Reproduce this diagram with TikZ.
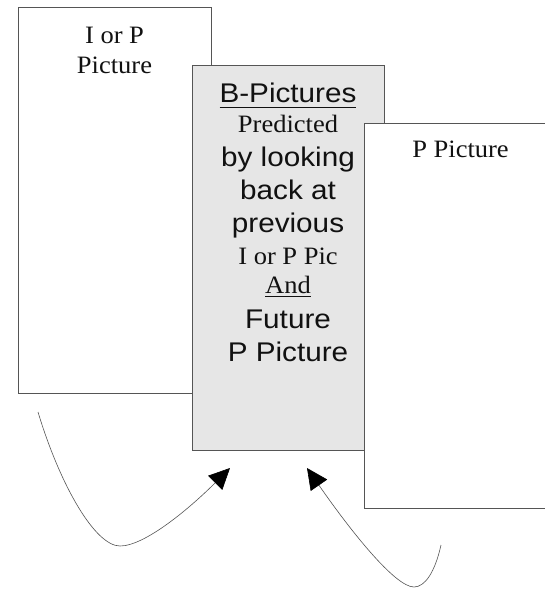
\documentclass[tikz,border=0pt]{standalone}
\usepackage{fontspec}
\usetikzlibrary{arrows.meta}
\newfontfamily\tms[FakeStretch=1.06]{Liberation Serif}
\newfontfamily\hlv[FakeStretch=1.1]{Liberation Sans}
% underline drawn as a rule below the text
\newcommand\ulin[2]{\setbox0\hbox{#2}\rlap{\rule[#1]{\wd0}{1.2pt}}\box0}
\definecolor{edge}{HTML}{555555}
\definecolor{bfill}{HTML}{E6E6E6}
\definecolor{ink}{HTML}{111111}
\begin{document}
\begin{tikzpicture}[x=1pt,y=-1pt,
  frame/.style={draw=edge,line width=1pt,inner sep=0pt,outer sep=0pt,anchor=north west},
  serif/.style={anchor=base,inner sep=0pt,text=ink,font=\tms\fontsize{25}{30}\selectfont},
  sans/.style={anchor=base,inner sep=0pt,text=ink,font=\hlv\fontsize{27}{32}\selectfont},
  link/.style={draw=edge,line width=0.6pt,-{Triangle[length=21pt,width=20pt,color=black]}}]
\path[use as bounding box,clip] (0,0) rectangle (545,589);
\fill[white] (0,0) rectangle (545,589);

% the three picture frames, back to front
\node[frame,fill=white,minimum width=193pt,minimum height=386pt] (ipic) at (18,7) {};
\node[frame,fill=bfill,minimum width=192pt,minimum height=385pt] (bpic) at (192,65) {};
\node[frame,fill=white,minimum width=193pt,minimum height=385pt] (ppic) at (364,123) {};

% left frame text
\node[serif] (t1) at (114.5,43) {I or P};
\node[serif] (t2) at (114.5,73) {Picture};

% middle frame text
\node[sans]  (b1) at (288,102.7) {\ulin{-5.5pt}{B-Pictures}};
\node[serif] (b2) at (288,132.7) {Predicted};
\node[sans]  (b3) at (288,166) {by looking};
\node[sans]  (b4) at (288,199.3) {back at};
\node[sans]  (b5) at (288,232.7) {previous};
\node[serif] (b6) at (288,264) {I or P Pic};
\node[serif] (b7) at (288,293.3) {\ulin{-3.5pt}{And}};
\node[sans]  (b8) at (288,328.3) {Future};
\node[sans]  (b9) at (288,361.7) {P Picture};

% right frame text
\node[serif] (p1) at (460.5,157.3) {P Picture};

% curved arrows pointing up at the B-picture
\coordinate (la) at (38,412);
\coordinate (lb) at (120,546);
\coordinate (lt) at (230,468);
\coordinate (ra) at (441,545);
\coordinate (rb) at (414,587);
\coordinate (rt) at (307,468);
\draw[link] (la) .. controls (60,485) and (95,546) .. (lb)
            .. controls (145,546) and (190,508) .. (lt);
\draw[link] (ra) .. controls (435,572) and (425,587) .. (rb)
            .. controls (395,587) and (350,530) .. (rt);
\end{tikzpicture}
\end{document}
